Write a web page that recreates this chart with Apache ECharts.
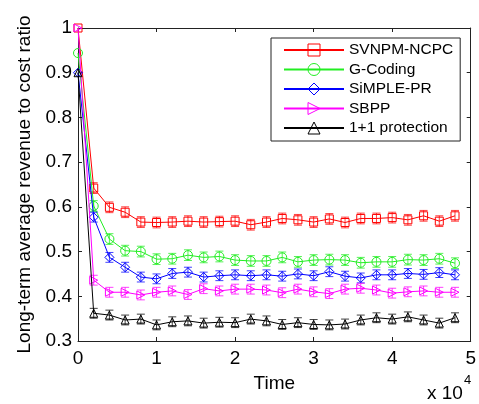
<!DOCTYPE html>
<html>
<head>
<meta charset="utf-8">
<script src="https://cdn.jsdelivr.net/npm/echarts@6/dist/echarts.min.js"></script>
<style>html,body{margin:0;padding:0;background:#fff;}#c{width:479px;height:404px;}</style>
</head>
<body>
<div id="c"></div>
<script>
const times = [0, 2000, 4000, 6000, 8000, 10000, 12000, 14000, 16000, 18000, 20000, 22000, 24000,
  26000, 28000, 30000, 32000, 34000, 36000, 38000, 40000, 42000, 44000, 46000, 48000];
const xTicks = ['0', '1', '2', '3', '4', '5'];
const seriesNames = ['SVNPM-NCPC', 'G-Coding', 'SiMPLE-PR', 'SBPP', '1+1 protection'];
const svnpm = [1.0, 0.642, 0.599, 0.588, 0.566, 0.565, 0.566, 0.568, 0.566, 0.567, 0.568, 0.560, 0.566,
  0.574, 0.571, 0.566, 0.573, 0.565, 0.574, 0.574, 0.576, 0.571, 0.580, 0.568, 0.580];
const gcoding = [0.944, 0.602, 0.528, 0.502, 0.500, 0.483, 0.484, 0.492, 0.487, 0.489, 0.481, 0.479, 0.479,
  0.487, 0.477, 0.481, 0.482, 0.481, 0.475, 0.477, 0.477, 0.482, 0.481, 0.484, 0.474];
const simple = [0.90, 0.577, 0.487, 0.465, 0.443, 0.439, 0.451, 0.454, 0.443, 0.446, 0.448, 0.446, 0.448,
  0.445, 0.450, 0.446, 0.455, 0.445, 0.441, 0.448, 0.448, 0.451, 0.449, 0.453, 0.448];
const sbpp = [1.0, 0.436, 0.409, 0.409, 0.403, 0.409, 0.412, 0.404, 0.417, 0.412, 0.416, 0.416, 0.414,
  0.408, 0.416, 0.410, 0.406, 0.416, 0.418, 0.414, 0.407, 0.410, 0.412, 0.409, 0.409];
const prot11 = [0.90, 0.362, 0.358, 0.347, 0.349, 0.336, 0.343, 0.345, 0.340, 0.342, 0.341, 0.349, 0.345,
  0.337, 0.341, 0.337, 0.336, 0.338, 0.347, 0.352, 0.349, 0.354, 0.347, 0.340, 0.352];
const errHalf = [0.012, 0.012, 0.011, 0.011, 0.011];

const values = [svnpm, gcoding, simple, sbpp, prot11];
const colors = ['#ff0000', '#22ee22', '#0000ff', '#ff00ff', '#000000'];
const symbols = ['rect', 'circle', 'diamond', 'path://M0,0 L10,5 L0,10 Z', 'triangle'];
const symSizes = [8, 9, 9, 8, 8];
const FONT = 'Liberation Sans, Arial, sans-serif';
const AX = '#222';
const HOLLOW = 'rgba(255,255,255,0)';

const series = [];
values.forEach((vals, k) => {
  series.push({
    name: seriesNames[k],
    type: 'line',
    data: times.map((t, i) => [t, vals[i]]),
    symbol: symbols[k],
    symbolSize: symSizes[k],
    showAllSymbol: true,
    clip: false,
    lineStyle: { color: colors[k], width: 1 },
    itemStyle: { color: HOLLOW, borderColor: colors[k], borderWidth: 1 },
    z: 3 + k,
    animation: false
  });
  series.push({
    name: seriesNames[k] + ' err',
    type: 'custom',
    data: times.slice(1).map((t, i) => [t, vals[i + 1] - errHalf[k], vals[i + 1] + errHalf[k]]),
    encode: { x: 0, y: [1, 2] },
    z: 3 + k,
    animation: false,
    renderItem: function (params, api) {
      const x = api.value(0);
      const lo = api.coord([x, api.value(1)]);
      const hi = api.coord([x, api.value(2)]);
      const w = 4;
      const st = { stroke: colors[k], lineWidth: 1, opacity: 0.75 };
      return {
        type: 'group',
        children: [
          { type: 'line', shape: { x1: lo[0], y1: lo[1], x2: hi[0], y2: hi[1] }, style: st },
          { type: 'line', shape: { x1: lo[0] - w, y1: lo[1], x2: lo[0] + w, y2: lo[1] }, style: st },
          { type: 'line', shape: { x1: hi[0] - w, y1: hi[1], x2: hi[0] + w, y2: hi[1] }, style: st }
        ]
      };
    }
  });
});

const axisCommon = {
  axisLine: { show: true, onZero: false, lineStyle: { color: AX, width: 1 } },
  axisTick: { show: true, inside: true, length: 4, lineStyle: { color: AX } },
  splitLine: { show: false }
};

const option = {
  backgroundColor: '#fff',
  animation: false,
  grid: { left: 78, right: 8, top: 28, bottom: 63 },
  legend: {
    data: seriesNames.map((n, k) => ({
      name: n,
      itemStyle: { color: HOLLOW, borderColor: colors[k], borderWidth: 1 }
    })),
    orient: 'vertical',
    left: 271,
    top: 38,
    padding: [4, 7, 5, 12],
    itemWidth: 60,
    itemHeight: 15,
    itemGap: 3.5,
    borderColor: '#222',
    borderWidth: 1,
    backgroundColor: '#fff',
    textStyle: { fontFamily: FONT, fontSize: 15.5, color: '#000', lineHeight: 16 }
  },
  xAxis: [
    Object.assign({
      type: 'value', min: 0, max: 50000, interval: 10000, position: 'bottom',
      name: 'Time', nameLocation: 'middle', nameGap: 33,
      nameTextStyle: { fontFamily: FONT, fontSize: 19, color: '#000' },
      axisLabel: { fontFamily: FONT, fontSize: 19, color: '#000', margin: 8,
        formatter: v => xTicks[Math.round(v / 10000)] }
    }, axisCommon),
    Object.assign({
      type: 'value', min: 0, max: 50000, interval: 10000, position: 'top',
      axisLabel: { show: false }
    }, axisCommon)
  ],
  yAxis: [
    Object.assign({
      type: 'value', min: 0.3, max: 1, interval: 0.1, position: 'left',
      name: 'Long-term average revenue to cost ratio', nameLocation: 'middle', nameGap: 39,
      nameTextStyle: { fontFamily: FONT, fontSize: 19, color: '#000' },
      axisLabel: { fontFamily: FONT, fontSize: 19, color: '#000', margin: 6 }
    }, axisCommon),
    Object.assign({
      type: 'value', min: 0.3, max: 1, interval: 0.1, position: 'right',
      axisLabel: { show: false }
    }, axisCommon)
  ],
  graphic: [
    { type: 'text', left: 427, top: 384, style: { text: 'x 10', font: '19px ' + FONT, fill: '#000' } },
    { type: 'text', left: 464, top: 374, style: { text: '4', font: '13px ' + FONT, fill: '#000' } }
  ],
  series: series
};

const chart = echarts.init(document.getElementById('c'), null, { renderer: 'canvas' });
chart.setOption(option);
</script>
</body>
</html>
